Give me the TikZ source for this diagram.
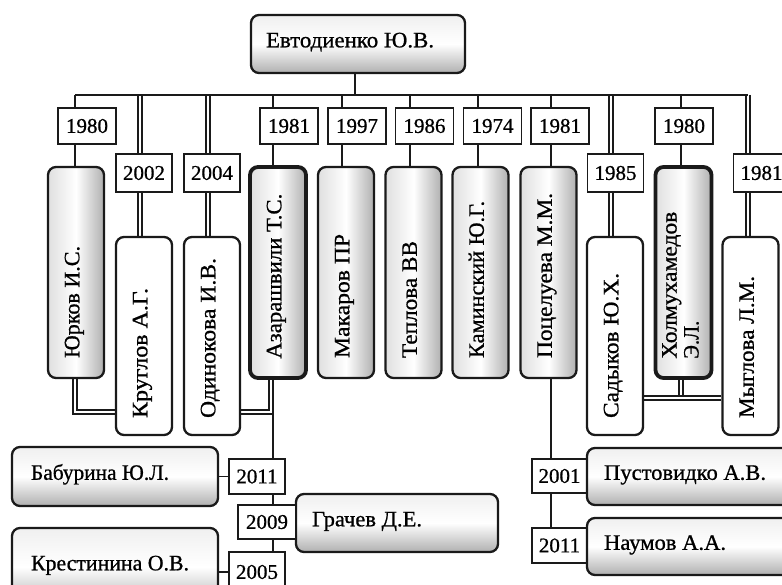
\documentclass[tikz,border=0pt]{standalone}
\usepackage{fontspec}
\usepackage{graphicx}
\setmainfont[FakeBold=0.8]{Liberation Serif}
\usetikzlibrary{backgrounds,calc}
\definecolor{ink}{HTML}{1A1A1A}
\newcommand\nmfont{\fontsize{22}{22}\selectfont}
\newcommand\yrfont{\fontsize{21}{22}\selectfont}
\newcommand\fitw[2]{\resizebox{#1pt}{\height}{#2}}
\begin{document}
\begin{tikzpicture}[x=1pt,y=-1pt,
  ln/.style={draw=ink,line width=1.7pt},
  dbl/.style={draw=ink,double=white,double distance=2.2pt,line width=1.6pt},
  yr/.style={draw=ink,fill=white,line width=1.9pt,inner sep=0pt,font=\yrfont},
  yrA/.style={yr,minimum width=58pt,minimum height=36pt},
  yrB/.style={yr,minimum width=56pt,minimum height=38pt},
  tall/.style={draw=ink,line width=2.3pt,rounded corners=8pt,minimum width=56pt,minimum height=211pt,inner sep=0pt,left color=gray!25,right color=gray!62,middle color=white},
  short/.style={draw=ink,line width=2.3pt,rounded corners=8pt,minimum width=56pt,minimum height=198pt,inner sep=0pt,fill=white},
  heavy/.style={line width=3.8pt},
  vtext/.style={rotate=90,anchor=west,inner sep=0pt,font=\nmfont,text height=.66em,text depth=0pt},
  vtexttwo/.style={rotate=90,anchor=west,inner sep=0pt,font=\nmfont,align=left},
  hbox/.style={draw=ink,line width=2.3pt,rounded corners=8pt,inner sep=0pt,top color=gray!12,bottom color=gray!62,middle color=white},
  htext/.style={anchor=west,inner sep=0pt,font=\nmfont,text height=.66em,text depth=0pt}]
\useasboundingbox (0,0) rectangle (782,585);
\clip (0,0) rectangle (782,585);

% top box
\node[hbox,minimum width=214pt,minimum height=58pt] (evt) at (358,44) {};
\node[htext] (evtT) at ([xshift=16pt]evt.west) {\fitw{168}{Евтодиенко Ю.В.}};

% first row of years
\node[yrA] (a1980) at (87,126) {1980};
\node[yrA] (a1981) at (289,126) {1981};
\node[yrA] (a1997) at (357,126) {1997};
\node[yrA] (a1986) at (424.5,126) {1986};
\node[yrA] (a1974) at (492.5,126) {1974};
\node[yrA] (a1981b) at (560,126) {1981};
\node[yrA] (a1980b) at (684,126) {1980};

% second row of years
\node[yrB] (b2002) at (144,173) {2002};
\node[yrB] (b2004) at (212,173) {2004};
\node[yrB] (b1985) at (615.5,173) {1985};
\node[yrB] (b1981) at (761.5,173) {1981};

% tall boxes
\node[tall] (yurkov) at (76,272.5) {};
\node[tall,heavy] (azar) at (278,272.5) {};
\node[tall] (makarov) at (346,272.5) {};
\node[tall] (teplova) at (413.5,272.5) {};
\node[tall] (kamin) at (480.5,272.5) {};
\node[tall] (pocel) at (548.5,272.5) {};
\node[tall,heavy] (holm) at (683.5,272.5) {};

\node[vtext] (yurkovT) at ([yshift=21pt]yurkov.south) {\fitw{112}{Юрков И.С.}};
\node[vtext] (azarT) at ([yshift=21pt]azar.south) {\fitw{165}{Азарашвили Т.С.}};
\node[vtext] (makarovT) at ([yshift=21pt]makarov.south) {\fitw{124}{Макаров ПР}};
\node[vtext] (teplovaT) at ([yshift=21pt]teplova.south) {\fitw{117}{Теплова ВВ}};
\node[vtext] (kaminT) at ([yshift=21pt]kamin.south) {\fitw{157}{Каминский Ю.Г.}};
\node[vtext] (pocelT) at ([yshift=21pt]pocel.south) {\fitw{165}{Поцелуева М.М.}};
\node[vtexttwo] (holmT) at ([yshift=21pt,xshift=-3pt]holm.south) {\fitw{147}{Холмухамедов}\\\fitw{38}{Э.Л.}};

% short boxes
\node[short] (kruglov) at (144,336) {};
\node[short] (odin) at (212,336) {};
\node[short] (sadyk) at (615,336) {};
\node[short] (mygl) at (750.5,336) {};

\node[vtext] (kruglovT) at ([yshift=18pt]kruglov.south) {\fitw{130}{Круглов А.Г.}};
\node[vtext] (odinT) at ([yshift=18pt]odin.south) {\fitw{160}{Одинокова И.В.}};
\node[vtext] (sadykT) at ([yshift=18pt]sadyk.south) {\fitw{145}{Садыков Ю.Х.}};
\node[vtext] (myglT) at ([yshift=18pt]mygl.south) {\fitw{142}{Мыглова Л.М.}};

% bottom left
\node[hbox,minimum width=206pt,minimum height=59pt] (bab) at (115,476.5) {};
\node[htext] (babT) at ([xshift=20pt]bab.west) {\fitw{138}{Бабурина Ю.Л.}};
\node[yr,minimum width=56pt,minimum height=35pt] (y2011a) at (257,476.5) {2011};
\node[hbox,minimum width=202pt,minimum height=58pt] (grachev) at (397,523) {};
\node[htext] (grachevT) at ([xshift=17pt]grachev.west) {\fitw{110}{Грачев Д.Е.}};
\node[yr,minimum width=58pt,minimum height=34pt] (y2009) at (267,522) {2009};
\node[hbox,minimum width=206pt,minimum height=78pt] (krest) at (115,567) {};
\node[htext] (krestT) at ([xshift=20pt]krest.west) {\fitw{158}{Крестинина О.В.}};
\node[yr,minimum width=56pt,minimum height=40pt] (y2005) at (257,572) {2005};

% bottom right
\node[yr,minimum width=55pt,minimum height=34pt] (y2001) at (559.5,476) {2001};
\node[hbox,minimum width=213pt,minimum height=57pt] (pust) at (693.5,476.5) {};
\node[htext] (pustT) at ([xshift=18pt]pust.west) {\fitw{162}{Пустовидко А.В.}};
\node[yr,minimum width=55pt,minimum height=35pt] (y2011b) at (559.5,545.5) {2011};
\node[hbox,minimum width=213pt,minimum height=57pt] (naumov) at (693.5,546.5) {};
\node[htext] (naumovT) at ([xshift=18pt]naumov.west) {\fitw{122}{Наумов А.А.}};

% connectors
\begin{pgfonlayer}{background}
\coordinate (bus) at (0,95);
\coordinate (jl) at (0,412);
\coordinate (jr) at (0,398);
\coordinate (s0) at ([xshift=-3pt]evt.south);
\coordinate (s1) at ([xshift=-1pt]yurkov.north);
\coordinate (s2) at ([xshift=-5pt]azar.north);
\coordinate (s3) at ([xshift=-4pt]makarov.north);
\coordinate (s4) at ([xshift=-3.5pt]teplova.north);
\coordinate (s5) at ([xshift=-2.5pt]kamin.north);
\coordinate (s6) at ([xshift=2.5pt]pocel.north);
\coordinate (s7) at ([xshift=-2.5pt]holm.north);
\coordinate (d1) at ([xshift=-4pt]kruglov.north);
\coordinate (d2) at ([xshift=-4pt]odin.north);
\coordinate (d3) at ([xshift=-4pt]sadyk.north);
\coordinate (d4) at ([xshift=-2.5pt]mygl.north);
\coordinate (s2b) at ([xshift=-7pt]azar.south);

\draw[dbl] (d1 |- bus) -- (d1);
\draw[dbl] (d2 |- bus) -- (d2);
\draw[dbl] (d3 |- bus) -- (d3);
\draw[dbl] (d4 |- bus) -- (d4);
\draw[ln] (s0) -- (s0 |- bus);
\draw[ln] (s1 |- bus) -- (d4 |- bus);
\foreach \s in {s1,s2,s3,s4,s5,s6,s7} {\draw[ln] (\s |- bus) -- (\s);}

\draw[dbl] (s1 |- yurkov.south) |- (kruglov.west |- jl);
\draw[dbl] (s2b) |- (odin.east |- jl);
\draw[ln] (s2 |- azar.south) -- (s2 |- y2005.north);
\draw[ln] (bab.east) -- (y2011a.west);
\draw[ln] (krest.east |- y2005.west) -- (y2005.west);
\draw[dbl] (s7 |- holm.south) -- (s7 |- jr);
\draw[dbl] (sadyk.east |- jr) -- (mygl.west |- jr);
\draw[ln] (s6 |- pocel.south) -- (s6 |- y2011b.north);
\end{pgfonlayer}
\end{tikzpicture}
\end{document}
